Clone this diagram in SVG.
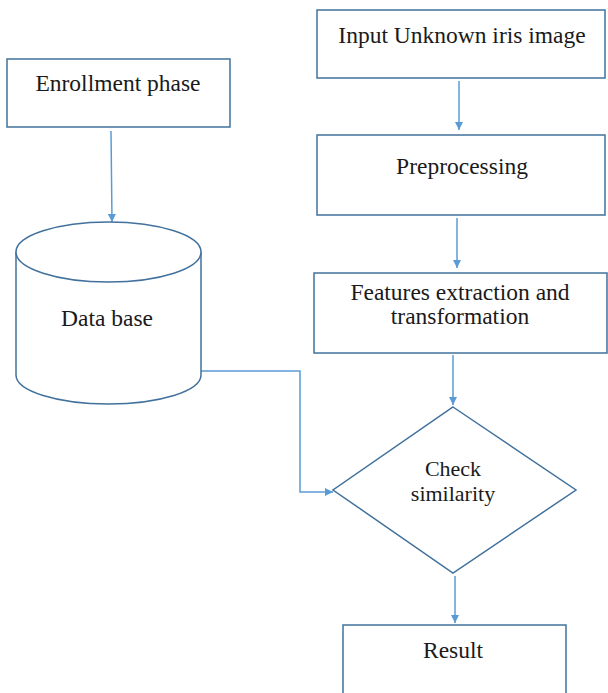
<svg xmlns="http://www.w3.org/2000/svg" width="608" height="693" viewBox="0 0 608 693">
<style>
.box{fill:#fff;stroke:#41719c;stroke-width:1.5}
.t{font-family:'Liberation Serif',serif;font-size:23.5px;fill:#1a1a1a;text-anchor:middle}
.c{fill:none;stroke:#5b9bd5;stroke-width:1.5}
</style>
<defs>
<marker id="ah" viewBox="0 0 10 10" refX="10" refY="5" markerWidth="8" markerHeight="8" markerUnits="userSpaceOnUse" orient="auto">
<path d="M0,0 L10,5 L0,10 z" fill="#5b9bd5"/>
</marker>
</defs>
<rect width="608" height="693" fill="#fff"/>
<g id="connectors">
<path class="c" d="M111,131 L112,222" marker-end="url(#ah)"/>
<path class="c" d="M459,81 L459,130" marker-end="url(#ah)"/>
<path class="c" d="M457,218 L457,268" marker-end="url(#ah)"/>
<path class="c" d="M453,355 L453,405" marker-end="url(#ah)"/>
<path class="c" d="M201,371 L300,371 L300,492 L333,492" marker-end="url(#ah)"/>
<path class="c" d="M455,576 L455,623" marker-end="url(#ah)"/>
</g>
<g id="enrollment">
<rect class="box" x="7" y="59" width="223" height="68"/>
<text class="t" x="118" y="91">Enrollment phase</text>
</g>
<g id="database">
<path class="box" d="M16,252 L16,375 A92.5,29 0 0 0 201,375 L201,252"/>
<ellipse class="box" cx="108.5" cy="252" rx="92.5" ry="30"/>
<text class="t" x="107" y="326">Data base</text>
</g>
<g id="input">
<rect class="box" x="317" y="10" width="288" height="68"/>
<text class="t" x="462" y="43">Input Unknown iris image</text>
</g>
<g id="preprocessing">
<rect class="box" x="317" y="135" width="288" height="80"/>
<text class="t" x="462" y="174">Preprocessing</text>
</g>
<g id="features">
<rect class="box" x="314" y="273" width="293" height="80"/>
<text class="t" x="460" y="300">Features extraction and</text>
<text class="t" x="460" y="324">transformation</text>
</g>
<g id="check">
<path class="box" d="M453,407 L576,490 L453,573 L333,490 Z"/>
<text class="t" x="453" y="476" style="font-size:22px">Check</text>
<text class="t" x="453" y="501" style="font-size:22px">similarity</text>
</g>
<g id="result">
<rect class="box" x="343" y="625" width="223" height="80"/>
<text class="t" x="453" y="658">Result</text>
</g>
</svg>
